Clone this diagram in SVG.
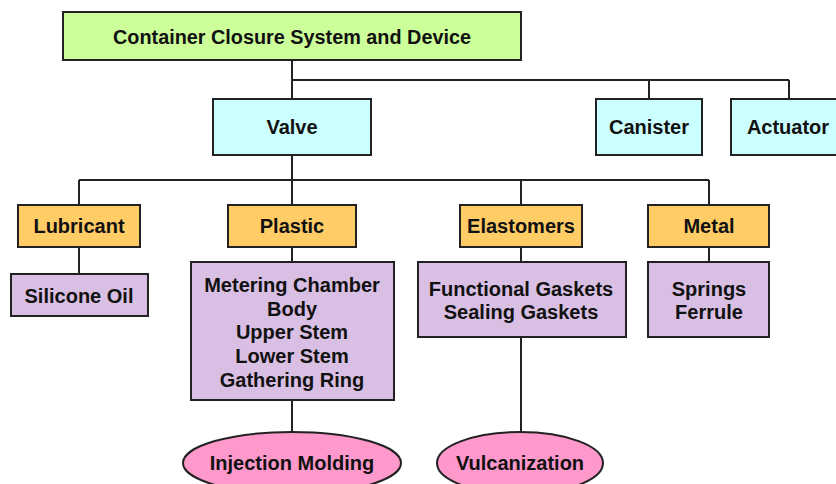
<svg xmlns="http://www.w3.org/2000/svg" width="836" height="484" viewBox="0 0 836 484">
<style>
.box{stroke:#222;stroke-width:2}
.g{fill:#CCFF99}.c{fill:#CCFFFF}.o{fill:#FFCC66}.p{fill:#D9BFE3}.k{fill:#FF99CC}
.ln{fill:none;stroke:#222;stroke-width:2}
text{font-family:"Liberation Sans",Arial,sans-serif;font-weight:bold;font-size:20px;fill:#111;text-anchor:middle;dominant-baseline:central}
</style>
<rect width="836" height="484" fill="#fff"/>
<g id="connectors">
<path class="ln" d="M292 60V80M292 80H789M649 80V99M789 80V99M292 80V99"/>
<path class="ln" d="M292 155V180M79 180H709M79 180V205M292 180V205M521 180V205M709 180V205"/>
<path class="ln" d="M79 247V274M292 247V262M521 247V262M709 247V262"/>
<path class="ln" d="M292 400V432M521 337V432"/>
</g>
<g id="root"><rect class="box g" x="63" y="12" width="458" height="48"/><text x="292" y="37" textLength="358" lengthAdjust="spacingAndGlyphs">Container Closure System and Device</text></g>
<g id="valve"><rect class="box c" x="213" y="99" width="158" height="56"/><text x="292" y="127">Valve</text></g>
<g id="canister"><rect class="box c" x="596" y="99" width="106" height="56"/><text x="649" y="127">Canister</text></g>
<g id="actuator"><rect class="box c" x="731" y="99" width="120" height="56"/><text x="788" y="127">Actuator</text></g>
<g id="lubricant"><rect class="box o" x="18" y="205" width="122" height="42"/><text x="79" y="226">Lubricant</text></g>
<g id="plastic"><rect class="box o" x="228" y="205" width="128" height="42"/><text x="292" y="226">Plastic</text></g>
<g id="elastomers"><rect class="box o" x="460" y="205" width="122" height="42"/><text x="521" y="226">Elastomers</text></g>
<g id="metal"><rect class="box o" x="648" y="205" width="121" height="42"/><text x="709" y="226">Metal</text></g>
<g id="silicone"><rect class="box p" x="11" y="274" width="137" height="42"/><text x="79" y="296">Silicone Oil</text></g>
<g id="plastic-parts"><rect class="box p" x="191" y="262" width="203" height="138"/>
<text x="292" y="285">Metering Chamber</text><text x="292" y="309">Body</text><text x="292" y="332">Upper Stem</text><text x="292" y="356">Lower Stem</text><text x="292" y="380">Gathering Ring</text></g>
<g id="gaskets"><rect class="box p" x="418" y="262" width="208" height="75"/><text x="521" y="289">Functional Gaskets</text><text x="521" y="312">Sealing Gaskets</text></g>
<g id="metal-parts"><rect class="box p" x="648" y="262" width="121" height="75"/><text x="709" y="289">Springs</text><text x="709" y="312">Ferrule</text></g>
<g id="injection"><ellipse class="box k" cx="292" cy="463" rx="109" ry="31"/><text x="292" y="463">Injection Molding</text></g>
<g id="vulcanization"><ellipse class="box k" cx="520" cy="463" rx="83" ry="31"/><text x="520" y="463">Vulcanization</text></g>
</svg>
